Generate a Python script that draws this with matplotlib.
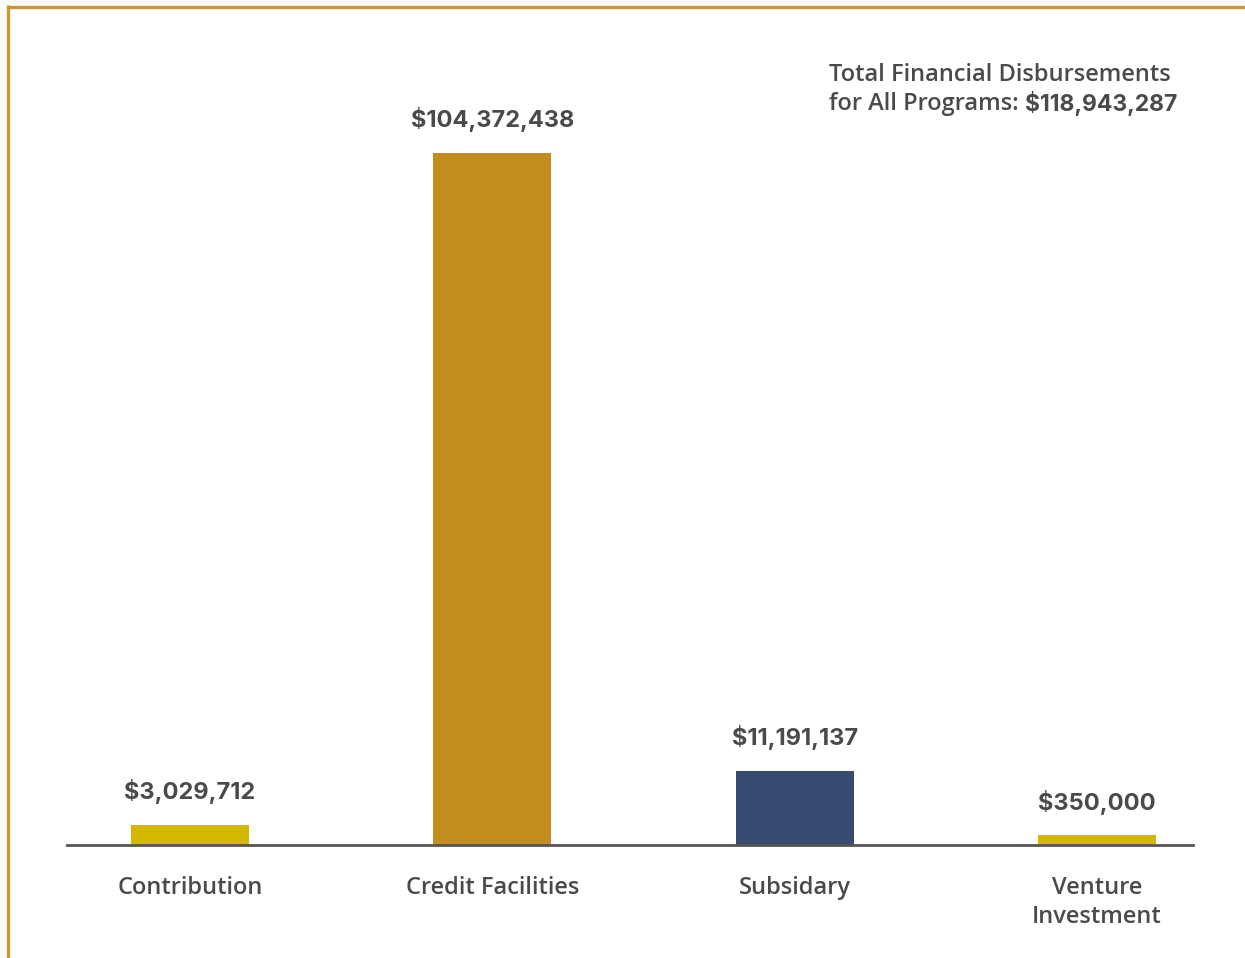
import matplotlib.pyplot as plt
from matplotlib.lines import Line2D
from matplotlib.patches import Rectangle

categories = ["Contribution", "Credit Facilities", "Subsidary", "Venture\nInvestment"]
amounts = [3029712, 104372438, 11191137, 350000]
value_labels = ["$3,029,712", "$104,372,438", "$11,191,137", "$350,000"]
colors = ["#D4B800", "#C48D20", "#374A70", "#D4B800"]
total_label = "$118,943,287"

W, H = 1245, 958
fig = plt.figure(figsize=(W / 100, H / 100), dpi=100)
fig.patch.set_facecolor("white")

plt.rcParams['font.family'] = ['Inter', 'DejaVu Sans']
text_color = "#4a4a4a"
label_font = ['Open Sans', 'DejaVu Sans']

# frame: light strip on top, gold border top + left
fig.add_artist(Rectangle((0, 1 - 5 / H), 1, 5 / H, transform=fig.transFigure,
                         facecolor="#f7f8f8", edgecolor="none"))
fig.add_artist(Line2D([7.5 / W, 1], [1 - 6.5 / H, 1 - 6.5 / H], transform=fig.transFigure,
                      color="#C9972C", linewidth=2.4, solid_capstyle="butt"))
fig.add_artist(Line2D([7.5 / W, 7.5 / W], [0, 1 - 5 / H], transform=fig.transFigure,
                      color="#C9972C", linewidth=2.4, solid_capstyle="butt"))

left, right = 67 / W, 1193 / W
bottom, top = (H - 845) / H, (H - 153) / H
ax = fig.add_axes([left, bottom, right - left, top - bottom])
ax.set_facecolor("none")

# keep tiny bars visible like the original
shown = [max(v, 1.45e6) for v in amounts]
x = range(len(categories))
ax.bar(x, shown, width=0.39, color=colors, zorder=2)
ax.set_xlim(-0.407, 3.318)
ax.set_ylim(0, max(amounts))

for i, (v, lab) in enumerate(zip(shown, value_labels)):
    ax.annotate(lab, (i, v), xytext=(0, 24), textcoords="offset points",
                ha="center", va="center", fontsize=17, fontweight="bold",
                color=text_color)

for s in ["top", "right", "left"]:
    ax.spines[s].set_visible(False)
ax.spines["bottom"].set_color("#555555")
ax.spines["bottom"].set_linewidth(2)
ax.set_yticks([])
ax.set_xticks(list(x))
ax.set_xticklabels(categories, fontsize=17, color=text_color, fontweight=600,
                   family=label_font, linespacing=1.3, va="top")
ax.tick_params(axis="x", length=0, pad=22)

fig.text(829 / W, 1 - 75 / H, "Total Financial Disbursements", ha="left", va="center",
         fontsize=17, color=text_color, fontweight=600, family=label_font)
t2 = fig.text(829 / W, 1 - 104 / H, "for All Programs: ", ha="left", va="center",
              fontsize=17, color=text_color, fontweight=600, family=label_font)
fig.canvas.draw()
bb = t2.get_window_extent(fig.canvas.get_renderer())
fig.text(bb.x1 / W, 1 - 103 / H, total_label, ha="left", va="center",
         fontsize=16.5, color=text_color, fontweight="bold")

fig.savefig("out.png", dpi=100)
